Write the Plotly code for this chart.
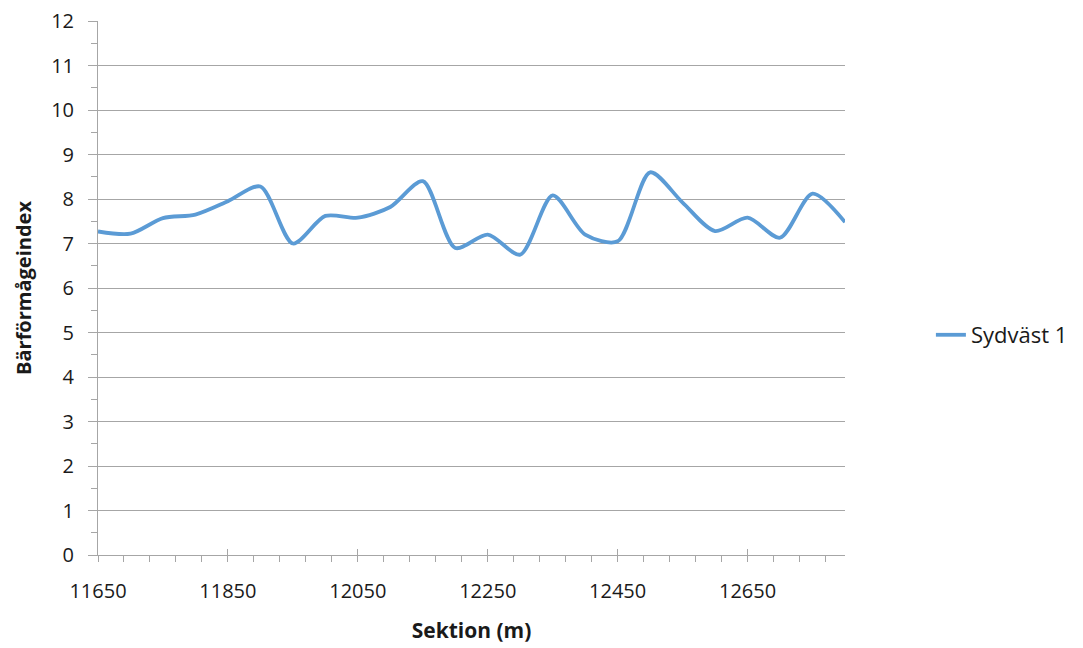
import plotly.graph_objects as go

sektion = [11650, 11700, 11750, 11800, 11850, 11900, 11950, 12000, 12050, 12100,
           12150, 12200, 12250, 12300, 12350, 12400, 12450, 12500, 12550, 12600,
           12650, 12700, 12750, 12800]
sydvast_1 = [7.27, 7.22, 7.57, 7.65, 7.95, 8.28, 7.0, 7.62, 7.58, 7.82,
             8.40, 6.9, 7.2, 6.75, 8.08, 7.2, 7.05, 8.6, 7.92, 7.28,
             7.58, 7.13, 8.12, 7.48]
x_ticks = [11650, 11850, 12050, 12250, 12450, 12650]
y_ticks = list(range(0, 13))

FONT = "Open Sans"
TXT = "#1a1a1a"
AX = "#a6a6a6"

fig = go.Figure()
fig.add_trace(go.Scatter(
    x=sektion, y=sydvast_1, mode="lines", name="Sydväst 1",
    line=dict(color="#5b9bd5", width=3.8, shape="spline", smoothing=0.8),
))
# invisible trace on overlay axis for inner half of crossing ticks
fig.add_trace(go.Scatter(x=sektion, y=sydvast_1, xaxis="x2", mode="lines",
                         line=dict(width=0), showlegend=False, hoverinfo="skip"))

fig.update_layout(
    width=1083, height=648,
    margin=dict(l=98, r=238, t=21, b=93, autoexpand=False),
    plot_bgcolor="white", paper_bgcolor="white",
    font=dict(family=FONT, color=TXT, size=20),
    xaxis=dict(
        range=[11650, 12800], tickvals=x_ticks, ticktext=[str(v) for v in x_ticks],
        showgrid=False, zeroline=False, showline=True, linecolor=AX, linewidth=1,
        ticks="outside", ticklen=6, tickcolor=AX, tickwidth=1, automargin=False,
        minor=dict(dtick=40, tick0=11650, ticks="outside", ticklen=6, tickcolor=AX, showgrid=False),
        tickfont=dict(size=20, family=FONT, color=TXT),
        ticklabelstandoff=12,
        title=dict(text="<b>Sektion (m)</b>", font=dict(size=21, family=FONT, color=TXT), standoff=20),
    ),
    xaxis2=dict(
        range=[11650, 12800], overlaying="x", anchor="y", side="bottom",
        tickvals=x_ticks, showticklabels=False, showgrid=False, zeroline=False,
        ticks="inside", ticklen=6, tickcolor=AX, tickwidth=1, showline=False,
        automargin=False,
    ),
    yaxis=dict(
        range=[0, 12], tickvals=y_ticks,
        showgrid=True, gridcolor=AX, gridwidth=1, zeroline=False,
        showline=True, linecolor=AX, linewidth=1, automargin=False,
        ticks="outside", ticklen=9, tickcolor=AX, tickwidth=1,
        minor=dict(dtick=0.5, ticks="outside", ticklen=6, tickcolor=AX, showgrid=False),
        tickfont=dict(size=20, family=FONT, color=TXT),
        ticklabelstandoff=10,
        title=dict(text="<b>Bärförmågeindex</b>", font=dict(size=20, family=FONT, color=TXT), standoff=14),
    ),
    legend=dict(x=1.115, y=0.412, xanchor="left", yanchor="middle",
                font=dict(size=22, family=FONT, color=TXT), bgcolor="rgba(0,0,0,0)"),
    showlegend=True,
)

fig.write_html("out.html")
